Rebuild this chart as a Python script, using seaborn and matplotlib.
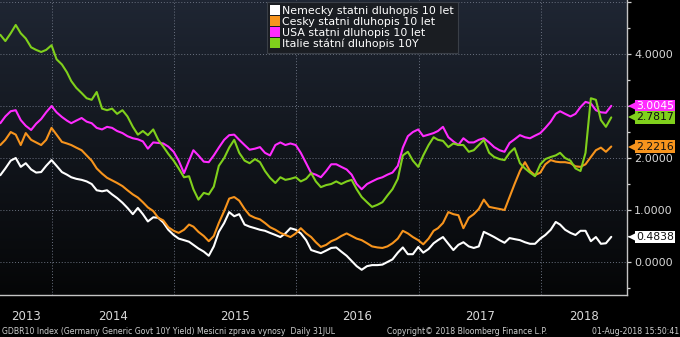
import numpy as np
import pandas as pd
import matplotlib
matplotlib.use("Agg")
import matplotlib.pyplot as plt
import matplotlib.dates as mdates
import matplotlib.transforms as mtrans
from matplotlib.colors import LinearSegmentedColormap
from matplotlib.lines import Line2D
from matplotlib.ticker import MultipleLocator, FuncFormatter
import seaborn as sns

# ---------------- data (semi-monthly readings, 31 Jul 2013 - 31 Jul 2018) ----------------
series_names = ["Nemecky statni dluhopis 10 let", "Cesky statni dluhopis 10 let",
                "USA statni dluhopis 10 let", "Italie státní dluhopis 10Y"]
series_colors = ["#ffffff", "#f7941d", "#ff2bff", "#80d01c"]
tag_text_colors = ["#111111", "#111111", "#ffffff", "#111111"]

germany = [1.67, 1.80, 1.95, 2.00, 1.83, 1.90, 1.78, 1.72, 1.73, 1.85,
           1.96, 1.85, 1.73, 1.68, 1.63, 1.60, 1.58, 1.55, 1.50, 1.38,
           1.36, 1.38, 1.30, 1.23, 1.14, 1.04, 0.92, 1.04, 0.92, 0.78,
           0.86, 0.85, 0.76, 0.62, 0.52, 0.45, 0.42, 0.39, 0.33, 0.26,
           0.20, 0.12, 0.30, 0.58, 0.75, 0.96, 0.88, 0.92, 0.72, 0.68,
           0.65, 0.62, 0.60, 0.56, 0.52, 0.48, 0.55, 0.65, 0.62, 0.55,
           0.42, 0.23, 0.20, 0.17, 0.22, 0.27, 0.28, 0.20, 0.12, 0.02,
           -0.08, -0.15, -0.08, -0.06, -0.06, -0.05, 0.00, 0.05, 0.18, 0.28,
           0.15, 0.15, 0.29, 0.18, 0.25, 0.36, 0.42, 0.48, 0.35, 0.23,
           0.33, 0.38, 0.30, 0.27, 0.30, 0.58, 0.53, 0.48, 0.42, 0.37,
           0.46, 0.44, 0.42, 0.38, 0.35, 0.35, 0.45, 0.52, 0.62, 0.77,
           0.72, 0.62, 0.56, 0.52, 0.60, 0.60, 0.40, 0.48, 0.35, 0.36,
           0.4838]

czech = [2.25, 2.35, 2.50, 2.45, 2.25, 2.48, 2.35, 2.30, 2.25, 2.35,
         2.58, 2.45, 2.31, 2.28, 2.25, 2.20, 2.15, 2.05, 1.95, 1.80,
         1.70, 1.62, 1.57, 1.52, 1.46, 1.38, 1.30, 1.24, 1.15, 1.05,
         0.98, 0.85, 0.80, 0.67, 0.60, 0.56, 0.62, 0.72, 0.68, 0.58,
         0.50, 0.40, 0.50, 0.75, 0.98, 1.22, 1.25, 1.18, 1.02, 0.90,
         0.85, 0.82, 0.75, 0.67, 0.62, 0.56, 0.52, 0.48, 0.55, 0.65,
         0.55, 0.48, 0.38, 0.29, 0.33, 0.40, 0.44, 0.50, 0.55, 0.50,
         0.45, 0.42, 0.36, 0.30, 0.28, 0.27, 0.30, 0.36, 0.45, 0.60,
         0.55, 0.48, 0.42, 0.34, 0.45, 0.60, 0.65, 0.75, 0.96, 0.92,
         0.90, 0.65, 0.85, 0.92, 1.02, 1.20, 1.06, 1.04, 1.02, 1.00,
         1.25, 1.50, 1.75, 1.92, 1.75, 1.67, 1.72, 1.88, 1.96, 1.93,
         1.92, 1.92, 1.90, 1.84, 1.83, 1.88, 2.02, 2.15, 2.20, 2.12,
         2.2216]

usa = [2.67, 2.80, 2.90, 2.92, 2.73, 2.62, 2.54, 2.66, 2.75, 2.88,
       3.00, 2.88, 2.79, 2.72, 2.67, 2.72, 2.77, 2.70, 2.67, 2.58,
       2.55, 2.60, 2.58, 2.52, 2.48, 2.42, 2.38, 2.36, 2.32, 2.18,
       2.30, 2.29, 2.28, 2.22, 2.12, 1.95, 1.71, 1.95, 2.15, 2.05,
       1.93, 1.92, 2.05, 2.20, 2.35, 2.44, 2.45, 2.35, 2.25, 2.16,
       2.18, 2.21, 2.10, 2.05, 2.25, 2.30, 2.25, 2.28, 2.25, 2.10,
       1.90, 1.71, 1.68, 1.63, 1.75, 1.88, 1.88, 1.83, 1.78, 1.68,
       1.50, 1.40, 1.50, 1.55, 1.60, 1.63, 1.68, 1.72, 1.85, 2.20,
       2.42, 2.50, 2.55, 2.42, 2.45, 2.48, 2.52, 2.60, 2.40, 2.32,
       2.25, 2.38, 2.30, 2.30, 2.35, 2.38, 2.30, 2.21, 2.15, 2.12,
       2.29, 2.36, 2.44, 2.40, 2.38, 2.43, 2.48, 2.58, 2.70, 2.85,
       2.90, 2.85, 2.80, 2.85, 2.98, 3.08, 3.05, 2.92, 2.88, 2.87,
       3.0045]

italy = [4.37, 4.25, 4.40, 4.56, 4.40, 4.30, 4.13, 4.08, 4.04, 4.08,
         4.17, 3.90, 3.80, 3.65, 3.48, 3.35, 3.25, 3.15, 3.12, 3.27,
         2.95, 2.92, 2.95, 2.85, 2.92, 2.80, 2.60, 2.45, 2.52, 2.44,
         2.55, 2.35, 2.22, 2.08, 1.95, 1.80, 1.63, 1.65, 1.40, 1.20,
         1.33, 1.30, 1.45, 1.85, 2.00, 2.20, 2.35, 2.10, 1.95, 1.90,
         1.98, 1.92, 1.75, 1.62, 1.52, 1.63, 1.58, 1.60, 1.63, 1.55,
         1.60, 1.71, 1.55, 1.44, 1.48, 1.50, 1.55, 1.50, 1.55, 1.58,
         1.40, 1.25, 1.15, 1.06, 1.10, 1.15, 1.28, 1.40, 1.60, 2.05,
         2.12, 1.95, 1.83, 2.05, 2.25, 2.40, 2.35, 2.33, 2.21, 2.28,
         2.25, 2.25, 2.12, 2.15, 2.25, 2.35, 2.10, 2.02, 1.98, 1.96,
         2.10, 2.19, 1.90, 1.80, 1.72, 1.65, 1.88, 1.98, 2.02, 2.05,
         2.10, 2.00, 1.95, 1.80, 1.75, 2.10, 3.15, 3.12, 2.73, 2.60,
         2.7817]

years = [2013, 2014, 2015, 2016, 2017, 2018]
footer_left = "GDBR10 Index (Germany Generic Govt 10Y Yield) Mesicni zprava vynosy  Daily 31JUL"
footer_mid = "Copyright\u00a9 2018 Bloomberg Finance L.P."
footer_right = "01-Aug-2018 15:50:41"

# semi-monthly dates: 15th and month end
dates = []
for y in range(2013, 2019):
    for m in range(1, 13):
        d15 = pd.Timestamp(y, m, 15)
        dend = pd.Timestamp(y, m, 1) + pd.offsets.MonthEnd(0)
        for d in (d15, dend):
            if pd.Timestamp(2013, 7, 31) <= d <= pd.Timestamp(2018, 7, 31):
                dates.append(d)

values = [germany, czech, usa, italy]

df = pd.concat([pd.DataFrame({"date": dates, "value": v, "series": n})
                for n, v in zip(series_names, values)], ignore_index=True)

# ---------------- figure ----------------
sns.set_style("white")
plt.rcParams["font.family"] = ["DejaVu Sans"]

W, H = 680, 337
fig = plt.figure(figsize=(W / 100, H / 100), dpi=100, facecolor="black")
pos = [0, 1 - 295 / H, 627 / W, 295 / H]

bg = fig.add_axes(pos, zorder=0)
grad = np.linspace(0, 1, 256).reshape(-1, 1)
cmap = LinearSegmentedColormap.from_list("bbg", ["#1f2633", "#12161d", "#050607"])
bg.imshow(grad, aspect="auto", cmap=cmap, extent=[0, 1, 0, 1])
bg.axis("off")

ax = fig.add_axes(pos, zorder=1)
ax.set_facecolor("none")

sns.lineplot(data=df, x="date", y="value", hue="series", hue_order=series_names,
             palette=series_colors, linewidth=1.5, legend=False, ax=ax)

xmin, xmax = pd.Timestamp("2013-07-30"), pd.Timestamp("2018-09-16")
ax.set_xlim(xmin, xmax)
ax.set_ylim(-0.635, 5.04)
ax.set_xlabel("")
ax.set_ylabel("")

for s in ["left", "top"]:
    ax.spines[s].set_visible(False)
for s in ["right", "bottom"]:
    ax.spines[s].set_color("#c4c4c4")
    ax.spines[s].set_linewidth(1.0)

# x axis: year separators and quarter ticks
ax.xaxis.set_major_locator(mdates.YearLocator())
ax.xaxis.set_minor_locator(mdates.MonthLocator(bymonth=[1, 4, 7, 10]))
ax.xaxis.set_major_formatter(FuncFormatter(lambda v, p: ""))
ax.tick_params(axis="x", which="major", direction="out", length=21.5, width=0.8,
               color="#8c8c8c", labelbottom=False)
ax.tick_params(axis="x", which="minor", direction="out", length=2.2, width=0.8,
               color="#a0a0a0")

# y axis on right (labels hidden where a value tag covers them, as in the original)
values_last = [v[-1] for v in values]


def ylab(v, p):
    if v > 4.5:
        return ""
    if any(abs(v - lv) < 0.12 for lv in values_last):
        return ""
    return f"{v:.4f}"


ax.yaxis.tick_right()
ax.yaxis.set_major_locator(MultipleLocator(1))
ax.yaxis.set_minor_locator(MultipleLocator(0.5))
ax.yaxis.set_major_formatter(FuncFormatter(ylab))
ax.tick_params(axis="y", which="major", direction="out", length=3, width=0.9,
               color="#d0d0d0", labelsize=8, labelcolor="#d6d6d6", pad=2)
ax.tick_params(axis="y", which="minor", direction="out", length=2.2, width=0.9,
               color="#d0d0d0")

ax.grid(True, which="major", axis="both", linestyle=(0, (1, 2)), color="#6a7180",
        linewidth=0.7)

# year labels centered in the visible part of each year
blend = mtrans.blended_transform_factory(ax.transData, ax.transAxes)
x0n, x1n = mdates.date2num(xmin), mdates.date2num(xmax)
for yr in years:
    a = max(mdates.date2num(pd.Timestamp(yr, 1, 1)), x0n)
    b = min(mdates.date2num(pd.Timestamp(yr + 1, 1, 1)), x1n)
    ax.text((a + b) / 2, -(317 - 295) / 295, str(yr), transform=blend,
            ha="center", va="center", fontsize=8.5, color="#d8d8d8", clip_on=False)

# last-value tags on the right axis
yblend = mtrans.blended_transform_factory(ax.transAxes, ax.transData)
for n, v, c, tc in zip(series_names, values, series_colors, tag_text_colors):
    last = v[-1]
    ax.annotate(f"{last:.4f}", xy=(1, last), xycoords=yblend,
                xytext=(6.5, 0), textcoords="offset points", ha="left", va="center",
                fontsize=7.8, color=tc, annotation_clip=False, zorder=6,
                bbox=dict(boxstyle="square,pad=0.12", fc=c, ec="none"))
    tri = mtrans.offset_copy(yblend, fig=fig, x=4.5, y=0, units="dots")
    ax.plot([1], [last], marker="<", markersize=5.5, color=c, markeredgewidth=0,
            transform=tri, clip_on=False, zorder=6)

# legend
handles = [Line2D([], [], marker="s", ls="", color=c, markersize=6.5, markeredgewidth=0)
           for c in series_colors]
leg = ax.legend(handles, series_names, loc="upper left",
                bbox_to_anchor=(267 / W, 1 - 2 / H), bbox_transform=fig.transFigure,
                frameon=True, fancybox=False, facecolor="#1a1d22", edgecolor="#3a3f47",
                framealpha=1, fontsize=7.9, labelcolor="white", handlelength=0.7,
                handletextpad=0.35, labelspacing=0.08, borderpad=0.35, borderaxespad=0)
leg.get_frame().set_linewidth(0.8)
leg.set_zorder(7)

# footer
fig.text(2 / W, 1 - 332 / H, footer_left, fontsize=5.6, color="#cfcfcf", va="center")
fig.text(387 / W, 1 - 332 / H, footer_mid, fontsize=5.6, color="#cfcfcf", va="center")
fig.text(679 / W, 1 - 332 / H, footer_right, fontsize=5.6, color="#cfcfcf", va="center",
         ha="right")

fig.savefig("out.png", dpi=100, facecolor="black")
